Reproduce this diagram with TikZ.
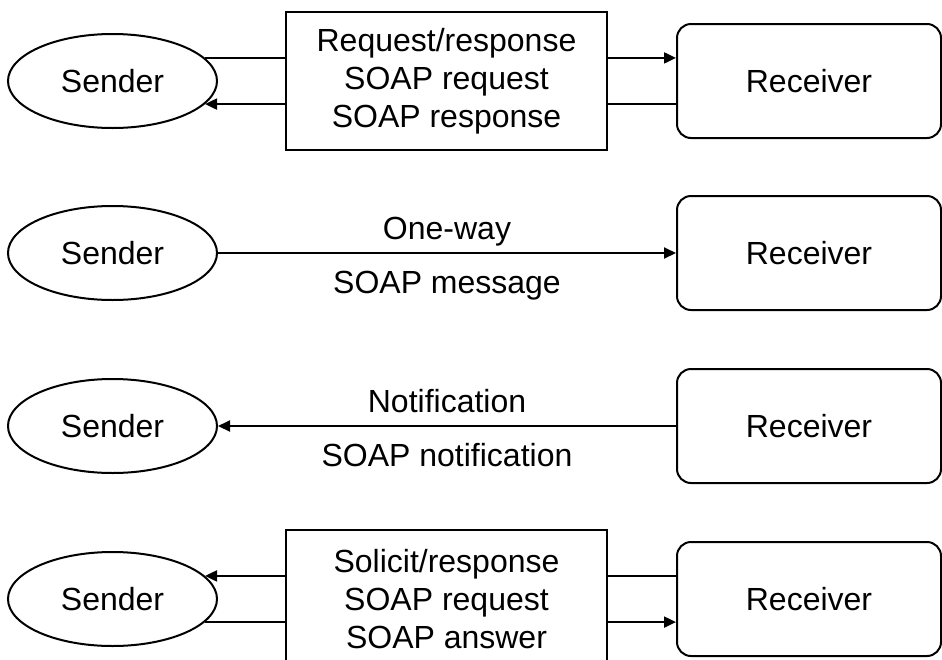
\documentclass[tikz,border=0pt]{standalone}
\usepackage{fontspec}
\setmainfont{Liberation Sans}
\usetikzlibrary{arrows.meta,shapes.geometric}

\begin{document}
\begin{tikzpicture}[
  x=1pt, y=-1pt,
  font=\fontsize{32}{38}\selectfont,
  line width=2pt,
  sender/.style={draw, ellipse, minimum width=209pt, minimum height=94pt, inner sep=0pt},
  receiver/.style={draw, rounded corners=14pt, minimum width=264pt, minimum height=114pt},
  pattern/.style={draw, align=center, minimum width=321pt, minimum height=138pt},
  arr/.style={-{Triangle[length=12pt,width=11pt]}},
  toplbl/.style={anchor=base, yshift=14pt},
  botlbl/.style={anchor=base, yshift=-40pt}
]
\useasboundingbox (0,0) rectangle (942,659);
% senders and receivers, one row per exchange pattern
\node[sender] (s1) at (112.5,81) {Sender};
\node[sender] (s2) at (112.5,253) {Sender};
\node[sender] (s3) at (112.5,426) {Sender};
\node[sender] (s4) at (112.5,599) {Sender};
\node[receiver] (r1) at (809,81) {Receiver};
\node[receiver] (r2) at (809,253) {Receiver};
\node[receiver] (r3) at (809,426) {Receiver};
\node[receiver] (r4) at (809,599) {Receiver};
\node[pattern] (reqres) at (446.5,81) {Request/response\\SOAP request\\SOAP response};
\node[pattern] (solres) at (446.5,599) {Solicit/response\\SOAP request\\SOAP answer};
% request/response
\draw (s1.14) -- (s1.14 -| reqres.west);
\draw[arr] (reqres.east |- s1.14) -- (r1.west |- s1.14);
\draw[arr] (reqres.west |- s1.-14) -- (s1.-14);
\draw (reqres.east |- s1.-14) -- (r1.west |- s1.-14);
% one-way
\draw[arr] (s2.east) -- node[toplbl] {One-way} node[botlbl] {SOAP message} (s2.east -| r2.west);
% notification
\draw[arr] (r3.west |- s3.east) -- node[toplbl] {Notification} node[botlbl] {SOAP notification} (s3.east);
% solicit/response
\draw[arr] (solres.west |- s4.14) -- (s4.14);
\draw (solres.east |- s4.14) -- (r4.west |- s4.14);
\draw (s4.-14) -- (s4.-14 -| solres.west);
\draw[arr] (solres.east |- s4.-14) -- (r4.west |- s4.-14);
\end{tikzpicture}
\end{document}
